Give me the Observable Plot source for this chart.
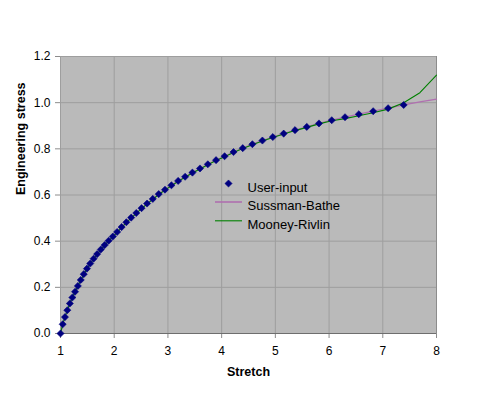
<!DOCTYPE html>
<html>
<head>
<meta charset="utf-8">
<script src="https://cdn.jsdelivr.net/npm/d3@7"></script>
<script src="https://cdn.jsdelivr.net/npm/@observablehq/plot@0.6"></script>
<style>
  html, body { margin: 0; padding: 0; background: #ffffff; }
  #chart { width: 481px; height: 396px; }
</style>
</head>
<body>
<div id="chart"></div>
<script>
// Stretch values of the user-input points
const stretch = [1.000, 1.041, 1.083, 1.127, 1.174, 1.221, 1.271, 1.323, 1.377, 1.433,
  1.492, 1.553, 1.616, 1.682, 1.751, 1.822, 1.896, 1.974, 2.054, 2.138,
  2.226, 2.316, 2.411, 2.509, 2.612, 2.718, 2.829, 2.945, 3.065, 3.190,
  3.320, 3.456, 3.597, 3.743, 3.896, 4.055, 4.221, 4.393, 4.572, 4.759,
  4.953, 5.155, 5.366, 5.585, 5.812, 6.050, 6.297, 6.554, 6.821, 7.099, 7.389];
// Engineering stress of the user-input points
const userInput = [0.000, 0.040, 0.071, 0.101, 0.130, 0.156, 0.181, 0.206, 0.232, 0.257,
  0.281, 0.303, 0.324, 0.344, 0.364, 0.383, 0.402, 0.420, 0.440, 0.461,
  0.482, 0.502, 0.522, 0.543, 0.563, 0.583, 0.604, 0.623, 0.642, 0.661,
  0.679, 0.697, 0.715, 0.733, 0.751, 0.768, 0.786, 0.803, 0.820, 0.836,
  0.851, 0.866, 0.881, 0.895, 0.910, 0.924, 0.937, 0.950, 0.963, 0.976, 0.990];
// Stretch values of the fitted curves (extend to 8)
const fitStretch = [1.000, 1.041, 1.083, 1.127, 1.174, 1.221, 1.271, 1.323, 1.377, 1.433,
  1.492, 1.553, 1.616, 1.682, 1.751, 1.822, 1.896, 1.974, 2.054, 2.138,
  2.226, 2.316, 2.411, 2.509, 2.612, 2.718, 2.829, 2.945, 3.065, 3.190,
  3.320, 3.456, 3.597, 3.743, 3.896, 4.055, 4.221, 4.393, 4.572, 4.759,
  4.953, 5.155, 5.366, 5.585, 5.812, 6.050, 6.297, 6.554, 6.821, 7.099, 7.389,
  7.691, 8.000];
const sussmanBathe = [0.000, 0.040, 0.071, 0.101, 0.130, 0.156, 0.181, 0.206, 0.232, 0.257,
  0.281, 0.303, 0.324, 0.344, 0.364, 0.383, 0.402, 0.420, 0.440, 0.461,
  0.482, 0.502, 0.522, 0.543, 0.563, 0.583, 0.604, 0.623, 0.642, 0.661,
  0.679, 0.697, 0.715, 0.733, 0.751, 0.768, 0.786, 0.803, 0.820, 0.836,
  0.851, 0.866, 0.881, 0.895, 0.910, 0.924, 0.937, 0.950, 0.963, 0.976, 0.990,
  1.003, 1.015];
const mooneyRivlin = [0.000, 0.040, 0.071, 0.101, 0.130, 0.156, 0.181, 0.206, 0.231, 0.256,
  0.280, 0.302, 0.323, 0.343, 0.363, 0.382, 0.401, 0.419, 0.438, 0.459,
  0.480, 0.500, 0.520, 0.541, 0.561, 0.581, 0.602, 0.621, 0.640, 0.659,
  0.677, 0.695, 0.713, 0.731, 0.749, 0.766, 0.784, 0.801, 0.818, 0.834,
  0.849, 0.864, 0.879, 0.893, 0.908, 0.922, 0.931, 0.943, 0.956, 0.972, 1.000,
  1.043, 1.119];
const xTicks = [1, 2, 3, 4, 5, 6, 7, 8];
const yTicks = [0, 0.2, 0.4, 0.6, 0.8, 1.0, 1.2];
const legendLabels = ["User-input", "Sussman-Bathe", "Mooney-Rivlin"];
const xTitle = "Stretch";
const yTitle = "Engineering stress";

const points = stretch.map((s, i) => ({s, v: userInput[i]}));
const sb = fitStretch.map((s, i) => ({s, v: sussmanBathe[i]}));
const mr = fitStretch.map((s, i) => ({s, v: mooneyRivlin[i]}));

const navy = "#000080";
const pink = "#b070b0";
const green = "#008000";
const hline = { draw(ctx) { ctx.moveTo(-13.5, 0); ctx.lineTo(13.5, 0); } };

const chart = Plot.plot({
  width: 481,
  height: 396,
  marginLeft: 60,
  marginRight: 45,
  marginTop: 56,
  marginBottom: 63,
  style: { background: "#ffffff", fontFamily: "'Liberation Sans', Arial, sans-serif", fontSize: "12px", color: "#000" },
  x: { domain: [1, 8], ticks: xTicks, label: null },
  y: { domain: [0, 1.2], ticks: yTicks, tickFormat: ".1f", label: null },
  marks: [
    Plot.frame({ fill: "#bababa", stroke: null }),
    Plot.gridX(xTicks, { stroke: "#9e9e9e", strokeOpacity: 1, strokeWidth: 1 }),
    Plot.gridY(yTicks, { stroke: "#9e9e9e", strokeOpacity: 1, strokeWidth: 1 }),
    Plot.ruleX([8], { stroke: "#8c8c8c" }),
    Plot.ruleX([1], { stroke: "#9e9e9e" }),
    Plot.axisX(xTicks, { tickSize: 5, tickPadding: 8, stroke: "#8c8c8c", fill: "#000", fontSize: 12, label: null }),
    Plot.axisY(yTicks, { tickSize: 5, tickPadding: 5, tickFormat: ".1f", stroke: "#8c8c8c", fill: "#000", fontSize: 12, label: null }),
    Plot.line(sb, { x: "s", y: "v", stroke: pink, strokeWidth: 1.3 }),
    Plot.line(mr, { x: "s", y: "v", stroke: green, strokeWidth: 1.1 }),
    Plot.ruleY([0], { stroke: "#6e6e6e", strokeWidth: 1.2 }),
    Plot.dot(points, { x: "s", y: "v", symbol: "diamond2", r: 3.2, fill: navy, stroke: navy, strokeWidth: 0.6 }),
    // legend
    Plot.dot([legendLabels[0]], { frameAnchor: "top-left", dx: 168, dy: 127, symbol: "diamond2", r: 3.2, fill: navy, stroke: navy, strokeWidth: 0.6 }),
    Plot.dot([legendLabels[1]], { frameAnchor: "top-left", dx: 168, dy: 145.5, symbol: hline, r: 1, fill: "none", stroke: pink, strokeWidth: 1.6 }),
    Plot.dot([legendLabels[2]], { frameAnchor: "top-left", dx: 168, dy: 164.3, symbol: hline, r: 1, fill: "none", stroke: green, strokeWidth: 1.1 }),
    Plot.text([legendLabels[0]], { text: d => d, frameAnchor: "top-left", dx: 187, dy: 126, textAnchor: "start", fontSize: 13, fill: "#000" }),
    Plot.text([legendLabels[1]], { text: d => d, frameAnchor: "top-left", dx: 187, dy: 144.7, textAnchor: "start", fontSize: 13, fill: "#000" }),
    Plot.text([legendLabels[2]], { text: d => d, frameAnchor: "top-left", dx: 187, dy: 163.3, textAnchor: "start", fontSize: 13, fill: "#000" }),
    // axis titles
    Plot.text([xTitle], { text: d => d, frameAnchor: "bottom", dy: 42, fontWeight: "bold", fontSize: 12.5, fill: "#000" }),
    Plot.text([yTitle], { text: d => d, frameAnchor: "left", dx: -40, rotate: -90, fontWeight: "bold", fontSize: 12.5, fill: "#000" })
  ]
});
document.getElementById("chart").appendChild(chart);
</script>
</body>
</html>
